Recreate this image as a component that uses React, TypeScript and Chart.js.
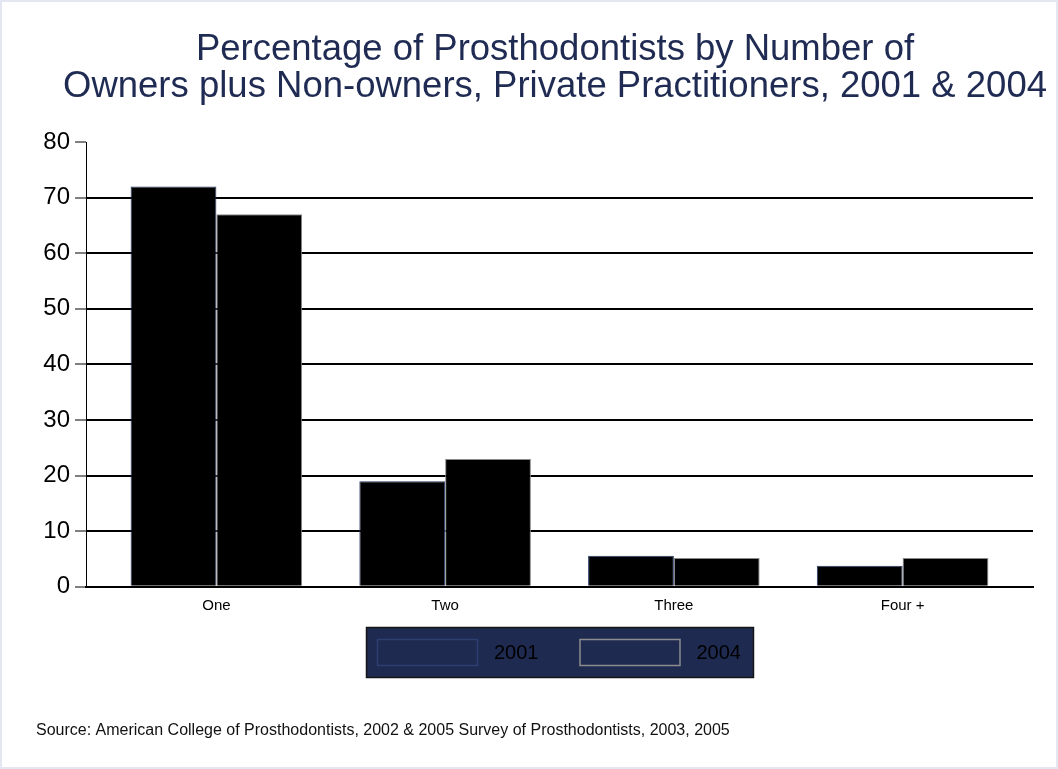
import React, { useEffect, useRef } from 'react';
import { Chart, registerables } from 'chart.js';

Chart.register(...registerables);

// ---- data ----
const categories = ['One', 'Two', 'Three', 'Four +'];
const seriesLabels = ['2001', '2004'];
const values2001 = [72, 19, 5.6, 3.8];
const values2004 = [67, 23, 5.2, 5.2];
const titleLines = [
  'Percentage of Prosthodontists by Number of',
  'Owners plus Non-owners, Private Practitioners, 2001 & 2004',
];
const sourceNote =
  'Source: American College of Prosthodontists, 2002 & 2005 Survey of Prosthodontists, 2003, 2005';

// ---- styles ----
const FONT = "'Liberation Sans', Arial, Helvetica, sans-serif";
const NAVY = '#1f2b52';
const LEGEND_BG = '#1f2a50';
const barBorders = ['#243a6a', '#8a8a8a'];
const legendBorders = ['#2c3f72', '#8c8c8c'];

// background frame + boxed legend (Stata style)
const backgroundPlugin = {
  id: 'bgAndLegendBox',
  beforeDraw(chart: any) {
    const ctx = chart.ctx;
    ctx.save();
    ctx.fillStyle = '#ffffff';
    ctx.fillRect(0, 0, chart.width, chart.height);
    ctx.strokeStyle = '#e4e7f1';
    ctx.lineWidth = 2;
    ctx.strokeRect(1, 1, chart.width - 2, chart.height - 2);
    ctx.restore();
  },
  afterDraw(chart: any) {
    const ctx = chart.ctx;
    const area = chart.chartArea;
    const swW = 101;
    const swH = 27;
    const textGap = 16;
    const itemGap = 41;
    const padL = 11;
    const padR = 13;
    const padV = 12;
    ctx.save();
    ctx.font = `20px ${FONT}`;
    const items = chart.data.datasets.map((ds: any, i: number) => ({
      text: String(ds.label),
      w: ctx.measureText(String(ds.label)).width,
      stroke: legendBorders[i],
    }));
    let content = 0;
    items.forEach((it: any, i: number) => {
      content += swW + textGap + it.w + (i < items.length - 1 ? itemGap : 0);
    });
    const boxW = content + padL + padR;
    const boxH = swH + 2 * padV;
    const cx = (area.left + area.right) / 2;
    const x0 = Math.round(cx - boxW / 2);
    const y0 = Math.round(area.bottom + 40);
    ctx.fillStyle = LEGEND_BG;
    ctx.fillRect(x0, y0, boxW, boxH);
    ctx.strokeStyle = '#151515';
    ctx.lineWidth = 1.5;
    ctx.strokeRect(x0 + 0.5, y0 + 0.5, boxW - 1, boxH - 1);
    let x = x0 + padL;
    const sy = y0 + padV;
    items.forEach((it: any) => {
      ctx.fillStyle = LEGEND_BG;
      ctx.fillRect(x, sy, swW, swH);
      ctx.strokeStyle = it.stroke;
      ctx.lineWidth = 1.5;
      ctx.strokeRect(x + 0.5, sy + 0.5, swW - 1, swH - 1);
      x += swW + textGap;
      ctx.fillStyle = '#000';
      ctx.textAlign = 'left';
      ctx.textBaseline = 'middle';
      ctx.fillText(it.text, x, sy + swH / 2 + 1);
      x += it.w + itemGap;
    });
    ctx.restore();
  },
};

export default function App() {
  const ref = useRef<HTMLCanvasElement>(null);

  useEffect(() => {
    document.body.style.margin = '0';
    const seriesValues = [values2001, values2004];
    const chart = new Chart(ref.current as HTMLCanvasElement, {
      type: 'bar',
      data: {
        datasets: seriesLabels.map((label, si) => ({
          label,
          data: seriesValues[si].map((v, i) => ({ x: i, y: v })),
          backgroundColor: '#000000',
          borderColor: barBorders[si],
          borderWidth: 1,
          categoryPercentage: 0.75,
          barPercentage: 1,
        })),
      },
      options: {
        responsive: false,
        devicePixelRatio: 1,
        animation: false,
        events: [],
        layout: { padding: { left: 36, right: -16, top: 0, bottom: 0 } },
        scales: {
          x: {
            type: 'linear',
            min: -0.57,
            max: 3.57,
            bounds: 'data',
            offset: false,
            grid: { display: false, drawTicks: false, offset: false },
            border: { display: true, color: '#000', width: 2 },
            afterBuildTicks: (s: any) => {
              s.ticks = categories.map((_, i) => ({ value: i }));
            },
            ticks: {
              autoSkip: false,
              maxRotation: 0,
              padding: 10,
              color: '#000',
              font: { family: FONT, size: 15 },
              callback: (v: any) => {
                const n = Math.round(Number(v));
                return categories[n] !== undefined ? categories[n] : '';
              },
            },
            afterFit: (s: any) => {
              s.height = 30;
            },
          },
          y: {
            type: 'linear',
            position: 'left',
            min: 0,
            max: 80,
            grid: {
              color: (c: any) => (c.tick && c.tick.value === 80 ? 'rgba(0,0,0,0)' : '#000'),
              lineWidth: 2,
              tickColor: '#000',
              tickWidth: 1,
              tickLength: 11,
              drawTicks: true,
            },
            border: { display: true, color: '#000', width: 1 },
            ticks: {
              stepSize: 10,
              padding: 5,
              color: '#000',
              font: { family: FONT, size: 24 },
            },
            afterFit: (s: any) => {
              s.width = 50;
            },
          },
          y2: {
            type: 'linear',
            position: 'right',
            display: true,
            grid: { display: false, drawTicks: false },
            border: { display: false },
            ticks: { display: false },
            afterFit: (s: any) => {
              s.width = 41;
            },
          },
        },
        plugins: {
          tooltip: { enabled: false },
          legend: { display: false },
          title: {
            display: true,
            text: titleLines,
            color: NAVY,
            align: 'center',
            font: { family: FONT, size: 36.5, weight: 'normal', lineHeight: 1.0 },
            padding: { top: 32, bottom: 37 },
          },
          subtitle: {
            display: true,
            position: 'bottom',
            align: 'start',
            text: sourceNote,
            color: '#111',
            font: { family: FONT, size: 16, weight: 'normal' },
            padding: { top: 104, bottom: 29 },
          },
        },
      } as any,
      plugins: [backgroundPlugin],
    });
    return () => chart.destroy();
  }, []);

  return (
    <canvas
      ref={ref}
      width={1058}
      height={769}
      style={{ display: 'block', width: 1058, height: 769 }}
    />
  );
}
